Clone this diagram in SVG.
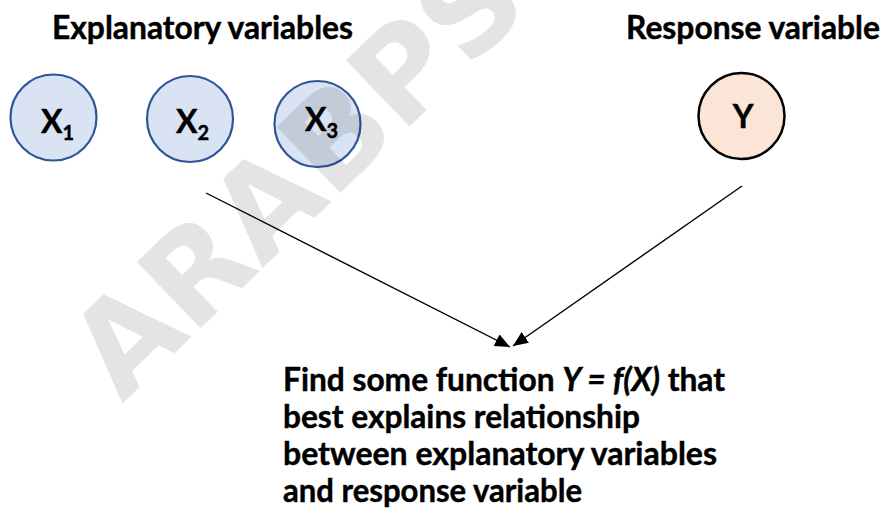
<svg xmlns="http://www.w3.org/2000/svg" width="882" height="517" viewBox="0 0 882 517">
  <style>
    text { font-family: Lato, "Open Sans", "DejaVu Sans", sans-serif; font-weight: 700; fill: #000; stroke: #000; stroke-width: 0.45; }
    .title { font-size: 32px; }
    .body { font-size: 33px; }
    .var { font-size: 32px; }
    .sub { font-size: 20px; }
    .xnode { fill: #dae3f3; stroke: #2f5597; stroke-width: 2.2; }
    .ynode { fill: #fbe5d6; stroke: #000; stroke-width: 2.5; }
    .link { fill: none; stroke: #000; stroke-width: 1.4; }
    .mark { font-family: "DejaVu Sans", sans-serif; font-size: 126px; font-weight: 700; fill: #000; fill-opacity: 0.105; stroke: none; }
  </style>
  <defs>
    <marker id="arrow" markerUnits="userSpaceOnUse" markerWidth="16" markerHeight="14" refX="15" refY="6.5" orient="auto">
      <path d="M0,0 L15,6.5 L0,13 z" fill="#000"/>
    </marker>
  </defs>

  <rect width="882" height="517" fill="#fff"/>

  <!-- headings -->
  <text class="title" x="52" y="39" textLength="301" lengthAdjust="spacingAndGlyphs">Explanatory variables</text>
  <text class="title" x="626" y="39" textLength="254" lengthAdjust="spacingAndGlyphs">Response variable</text>

  <!-- explanatory variable nodes -->
  <g id="node-x1">
    <circle class="xnode" cx="53.5" cy="117.5" r="43"/>
    <text class="var" x="41" y="133">X<tspan class="sub" dy="7">1</tspan></text>
  </g>
  <g id="node-x2">
    <circle class="xnode" cx="190" cy="119" r="43"/>
    <text class="var" x="176" y="133">X<tspan class="sub" dy="7">2</tspan></text>
  </g>
  <g id="node-x3">
    <circle class="xnode" cx="317.5" cy="124" r="43"/>
    <text class="var" x="305" y="131">X<tspan class="sub" dy="7">3</tspan></text>
  </g>

  <!-- response variable node -->
  <g id="node-y">
    <circle class="ynode" cx="741.5" cy="116" r="43"/>
    <text class="var" x="743" y="128" text-anchor="middle">Y</text>
  </g>

  <!-- connectors -->
  <g id="connectors">
    <line class="link" x1="206" y1="193" x2="510" y2="347" marker-end="url(#arrow)"/>
    <line class="link" x1="742" y1="186" x2="513" y2="346" marker-end="url(#arrow)"/>
  </g>

  <!-- conclusion -->
  <g id="node-goal">
    <text class="body" x="283" y="391" textLength="442" lengthAdjust="spacingAndGlyphs">Find some function <tspan font-style="italic">Y = f(X)</tspan> that</text>
    <text class="body" x="283" y="428" textLength="357" lengthAdjust="spacingAndGlyphs">best explains relationship</text>
    <text class="body" x="283" y="465" textLength="434" lengthAdjust="spacingAndGlyphs">between explanatory variables</text>
    <text class="body" x="283" y="502" textLength="299" lengthAdjust="spacingAndGlyphs">and response variable</text>
  </g>

  <!-- diagonal watermark -->
  <text class="mark" transform="translate(122,404) rotate(-44)">ARABPSY</text>
</svg>
